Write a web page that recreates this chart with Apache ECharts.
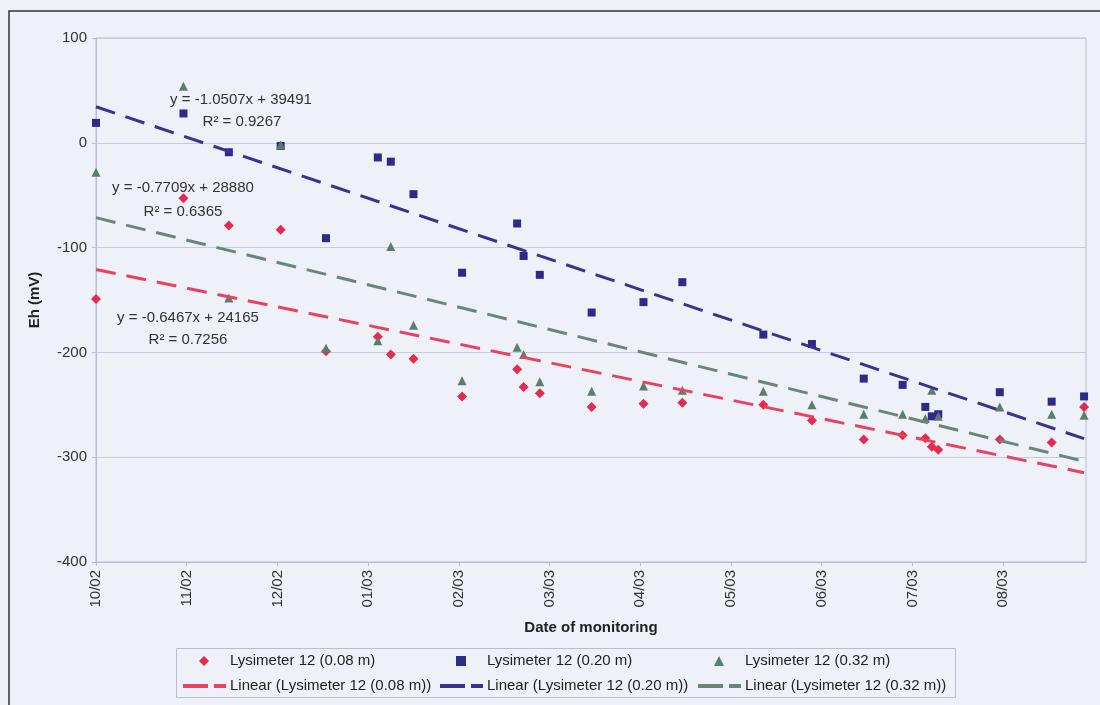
<!DOCTYPE html>
<html>
<head>
<meta charset="utf-8">
<script src="https://cdn.jsdelivr.net/npm/echarts@6/dist/echarts.min.js"></script>
<style>
html,body{margin:0;padding:0;background:#eef1f8;}
#chart{width:1100px;height:705px;}
</style>
</head>
<body>
<div id="chart"></div>
<script>
// ---- data ----
const xTickLabels = ['10/02','11/02','12/02','01/03','02/03','03/03','04/03','05/03','06/03','07/03','08/03'];
const tickStepDays = 28;
const axisMaxDays = 305.6;
// days since first monitoring date
const monitoringDays = [0,27,41,57,71,87,91,98,113,130,132,137,153,169,181,206,221,237,249,256,258,260,279,295,305];
const eh008 = [-149,-53,-79,-83,-199,-185,-202,-206,-242,-216,-233,-239,-252,-249,-248,-250,-265,-283,-279,-282,-290,-293,-283,-286,-252];
const eh020 = [19,28,-9,-3,-91,-14,-18,-49,-124,-77,-108,-126,-162,-152,-133,-183,-192,-225,-231,-252,-261,-259,-238,-247,-242];
const eh032 = [-28,54,-148,-2,-196,-189,-99,-174,-227,-195,-202,-228,-237,-232,-236,-237,-250,-259,-259,-263,-236,-261,-252,-259,-260];
const seriesNames = ['Lysimeter 12 (0.08 m)','Lysimeter 12 (0.20 m)','Lysimeter 12 (0.32 m)'];
const trendNames = seriesNames.map(n => 'Linear (' + n + ')');
const equationLabels = [
  ['y = -1.0507x + 39491','R\u00b2 = 0.9267'],
  ['y = -0.7709x + 28880','R\u00b2 = 0.6365'],
  ['y = -0.6467x + 24165','R\u00b2 = 0.7256']
];

// ---- styles ----
const colors = ['#e5294f','#2f2a87','#5c7d6d'];
const trendColors = ['#e8425e','#3a3190','#6d8578'];
const symbols = ['diamond','rect','triangle'];
const symbolSizes = [10,8,9];
const FONT = "'Liberation Sans', Arial, sans-serif";
const dashIcon = 'path://M0,0h25v4h-25zM31,0h12v4h-12z';

function pairs(xs, ys){ return xs.map((x,i)=>[x, ys[i]]); }
function linearFit(xs, ys){
  const n = xs.length;
  const mx = xs.reduce((a,b)=>a+b,0)/n;
  const my = ys.reduce((a,b)=>a+b,0)/n;
  let sxy=0, sxx=0;
  for(let i=0;i<n;i++){ sxy += (xs[i]-mx)*(ys[i]-my); sxx += (xs[i]-mx)*(xs[i]-mx); }
  const b = sxy/sxx, a = my - b*mx;
  const x0 = Math.min(...xs), x1 = Math.max(...xs);
  return [[x0, a+b*x0],[x1, a+b*x1]];
}

const ysets = [eh008, eh020, eh032];
const series = [];
ysets.forEach((ys,i)=>{
  series.push({
    name: seriesNames[i], type:'scatter', data: pairs(monitoringDays, ys),
    symbol: symbols[i], symbolSize: symbolSizes[i],
    itemStyle:{color: colors[i], opacity:1}, z: 2+i*0.1
  });
});
ysets.forEach((ys,i)=>{
  series.push({
    name: trendNames[i], type:'line', data: linearFit(monitoringDays, ys),
    symbol:'none', showSymbol:false, silent:true,
    lineStyle:{color: trendColors[i], width:3, type:[20,11]},
    itemStyle:{color: trendColors[i]}, z: 4
  });
});

const colLeft = [183, 440, 698];
const rowMid = [661, 686];
const legends = [];
for(let c=0;c<3;c++){
  legends.push({
    data:[{name: seriesNames[c], icon: symbols[c]}],
    left: colLeft[c] + 16, top: rowMid[0] - 9, orient:'horizontal',
    itemWidth: 10, itemHeight: 10, itemGap: 5,
    selectedMode:false, padding:0,
    itemStyle:{opacity:1},
    textStyle:{fontFamily:FONT, fontSize:15, color:'#222', padding:[0,0,0,16], lineHeight:18}
  });
}
for(let c=0;c<3;c++){
  legends.push({
    data:[{name: trendNames[c], icon: dashIcon, itemStyle:{color: trendColors[c]}}],
    left: colLeft[c], top: rowMid[1] - 9, orient:'horizontal',
    itemWidth: 43, itemHeight: 4, itemGap: 5,
    selectedMode:false, padding:0,
    textStyle:{fontFamily:FONT, fontSize:15, color:'#222', padding:[0,0,0,-1], lineHeight:18}
  });
}

const graphics = [
  {type:'rect', shape:{x:9, y:11, width:1300, height:900}, style:{fill:'none', stroke:'#333', lineWidth:1.5}, z:100, silent:true},
  {type:'rect', shape:{x:176.5, y:648.5, width:779, height:49}, style:{fill:'none', stroke:'#b9bdd3', lineWidth:1}, z:100, silent:true}
];
const eqPos = [[241,100,242,122],[183,188,183,212],[188,318,188,340]];
equationLabels.forEach((lab,i)=>{
  const p = eqPos[i];
  graphics.push({type:'text', x:p[0], y:p[1], style:{text:lab[0], fill:'#333', font:'15px '+FONT, align:'center', verticalAlign:'middle'}, z:50, silent:true});
  graphics.push({type:'text', x:p[2], y:p[3], style:{text:lab[1], fill:'#333', font:'15px '+FONT, align:'center', verticalAlign:'middle'}, z:50, silent:true});
});

const chart = echarts.init(document.getElementById('chart'), null, {renderer:'canvas'});
chart.setOption({
  backgroundColor:'#eef1f8',
  animation:false,
  textStyle:{fontFamily:FONT},
  grid:{left:96, right:14, top:38, bottom:143, show:true, borderColor:'#b9bdd3', borderWidth:1, backgroundColor:'transparent', outerBoundsMode:'none'},
  legend: legends,
  xAxis:{
    type:'value', min:0, max:axisMaxDays, interval:tickStepDays,
    name:'Date of monitoring', nameLocation:'middle', nameGap:58,
    nameTextStyle:{fontFamily:FONT, fontSize:15, fontWeight:'bold', color:'#222'},
    axisLine:{show:true, onZero:false, lineStyle:{color:'#b9bdd3'}},
    axisTick:{show:true, length:4, lineStyle:{color:'#b9bdd3'}},
    splitLine:{show:false},
    axisLabel:{rotate:90, margin:8, fontSize:15, color:'#333', showMaxLabel:false,
      formatter:function(v){ const k=Math.round(v/tickStepDays); return (Math.abs(v-k*tickStepDays)<0.01 && k<xTickLabels.length) ? xTickLabels[k] : ''; }}
  },
  yAxis:{
    type:'value', min:-400, max:100, interval:100,
    name:'Eh (mV)', nameLocation:'middle', nameGap:54,
    nameTextStyle:{fontFamily:FONT, fontSize:15, fontWeight:'bold', color:'#222'},
    axisLine:{show:true, onZero:false, lineStyle:{color:'#b9bdd3'}},
    axisTick:{show:true, length:4, lineStyle:{color:'#b9bdd3'}},
    splitLine:{show:true, lineStyle:{color:'#c8cbdf', width:1}},
    axisLabel:{margin:9, fontSize:15, color:'#333'}
  },
  graphic: graphics,
  series: series
});
</script>
</body>
</html>
